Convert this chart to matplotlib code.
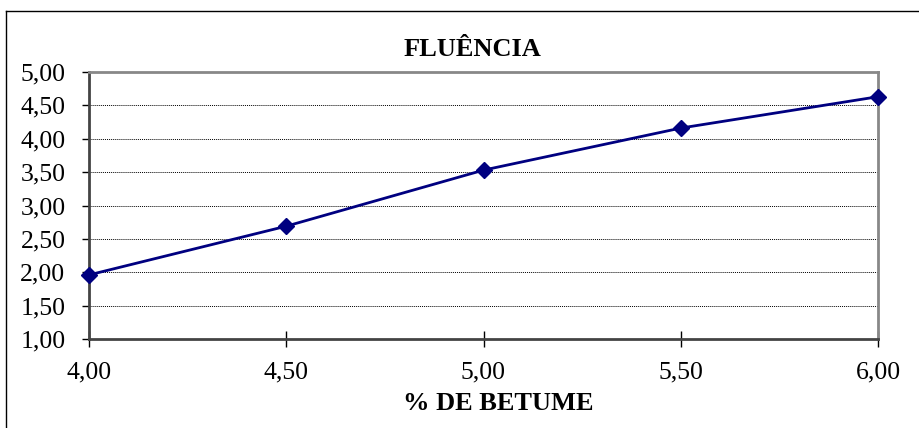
import matplotlib

matplotlib.use("Agg")
import matplotlib.pyplot as plt
from matplotlib.lines import Line2D
from matplotlib.ticker import FuncFormatter, MultipleLocator

betume = [4.00, 4.50, 5.00, 5.50, 6.00]
fluencia = [1.96, 2.69, 3.53, 4.16, 4.63]

title = "FLUÊNCIA"
x_label = "% DE BETUME"

plt.rcParams["font.family"] = ["Liberation Serif", "DejaVu Serif"]


def comma_fmt(value, _pos):
    return f"{value:.2f}".replace(".", ",")


fig = plt.figure(figsize=(9.2, 4.28), dpi=100)
W, H = 920, 428
left, right, top, bottom = 89, 878, 72, 339
ax = fig.add_axes([left / W, 1 - bottom / H, (right - left) / W, (bottom - top) / H])

# outer chart border (only top and left visible in the crop)
fig.add_artist(Line2D([6 / W, 6 / W], [0, 1 - 11 / H], transform=fig.transFigure, color="black", lw=1))
fig.add_artist(Line2D([6 / W, 1], [1 - 11 / H, 1 - 11 / H], transform=fig.transFigure, color="black", lw=1))

ax.plot(betume, fluencia, color="#000080", lw=2, marker="D", markersize=8,
        clip_on=False, zorder=5)

ax.set_xlim(4.0, 6.0)
ax.set_ylim(1.0, 5.0)
ax.xaxis.set_major_locator(MultipleLocator(0.5))
ax.yaxis.set_major_locator(MultipleLocator(0.5))
ax.xaxis.set_major_formatter(FuncFormatter(comma_fmt))
ax.yaxis.set_major_formatter(FuncFormatter(comma_fmt))

ax.grid(axis="y", color="black", linestyle=(0, (1, 1)), lw=0.7)
ax.set_axisbelow(True)

for side in ["top", "right"]:
    ax.spines[side].set_color("#888888")
    ax.spines[side].set_linewidth(2)
for side in ["left", "bottom"]:
    ax.spines[side].set_color("#444444")
    ax.spines[side].set_linewidth(2)

ax.tick_params(axis="x", direction="inout", length=11, width=1, color="black",
               labelsize=18.5, pad=11)
ax.tick_params(axis="y", direction="out", length=5, width=1, color="black",
               labelsize=18.5, pad=12)

fig.text(472 / W, 1 - 50 / H, title, ha="center", va="center",
         fontsize=19, fontweight="bold")
fig.text(498 / W, 1 - 404 / H, x_label, ha="center", va="center",
         fontsize=19, fontweight="bold")

fig.savefig("out.png", dpi=100)
